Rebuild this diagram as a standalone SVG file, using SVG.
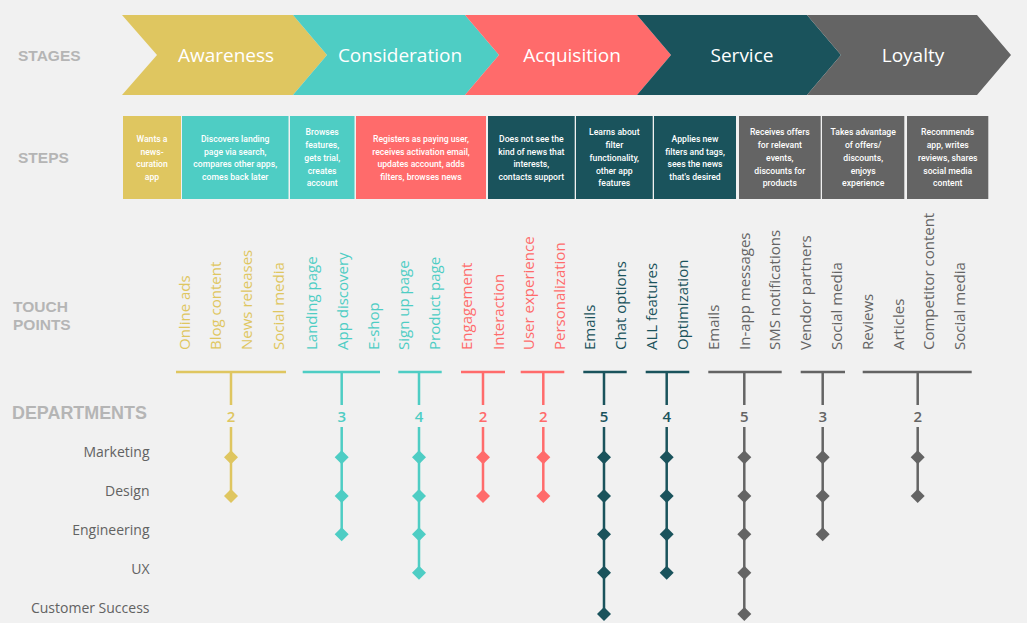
<svg xmlns="http://www.w3.org/2000/svg" width="1027" height="623" viewBox="0 0 1027 623">
<defs>
<style>
.hdr{font-family:"Liberation Sans",Arial,sans-serif;font-weight:bold;fill:#b5b5b5;font-size:15.5px}
.stg{font-family:"Open Sans","Noto Sans",sans-serif;font-size:19px;fill:#ffffff;text-anchor:middle}
.stp{font-family:Roboto,"Liberation Sans",sans-serif;font-weight:500;font-size:9.6px;fill:#ffffff;text-anchor:middle}
.tp{font-family:"Open Sans","Noto Sans",sans-serif;font-size:15px}
.num{font-family:"Open Sans","Noto Sans",sans-serif;font-size:15px;font-weight:600;text-anchor:middle}
.dep{font-family:"Open Sans","Noto Sans",sans-serif;font-size:14px;fill:#626262;text-anchor:end}
.ln{fill:none;stroke-width:2.5}
.y{fill:#dfc660}.t{fill:#4ecdc4}.r{fill:#ff6b6b}.d{fill:#1a535c}.g{fill:#646464}
.sy{stroke:#dfc660}.st{stroke:#4ecdc4}.sr{stroke:#ff6b6b}.sd{stroke:#1a535c}.sg{stroke:#646464}
</style>
<path id="dm" d="M0,-7 L7,0 L0,7 L-7,0Z"/>
</defs>
<rect width="1027" height="623" fill="#f1f1f1"/>

<g id="headers">
<text class="hdr" x="18" y="60.5">STAGES</text>
<text class="hdr" x="18" y="162.5">STEPS</text>
<text class="hdr" x="13" y="311.5">TOUCH</text>
<text class="hdr" x="13" y="329.5">POINTS</text>
<text class="hdr" x="12" y="418.5" style="font-size:17.9px">DEPARTMENTS</text>
</g>

<g id="stages">
<g id="stage-awareness"><polygon class="y" points="122,15 293,15 327,55 293,95 122,95 157,55"/><text class="stg" x="226" y="61.5">Awareness</text></g>
<g id="stage-consideration"><polygon class="t" points="293,15 465,15 499,55 465,95 293,95 327,55"/><text class="stg" x="400" y="61.5">Consideration</text></g>
<g id="stage-acquisition"><polygon class="r" points="465,15 637,15 671,55 637,95 465,95 499,55"/><text class="stg" x="572" y="61.5">Acquisition</text></g>
<g id="stage-service"><polygon class="d" points="637,15 807,15 841,55 807,95 637,95 671,55"/><text class="stg" x="742" y="61.5">Service</text></g>
<g id="stage-loyalty"><polygon class="g" points="807,15 977,15 1011,55 977,95 807,95 841,55"/><text class="stg" x="913" y="61.5">Loyalty</text></g>
</g>

<g id="steps">
<g id="step-1"><rect class="y" x="123" y="116" width="58" height="83"/>
<text class="stp" transform="matrix(0.9 0 0 1 152 0)"><tspan x="0" y="142">Wants a</tspan><tspan x="0" y="154.7">news-</tspan><tspan x="0" y="167.4">curation</tspan><tspan x="0" y="180.1">app</tspan></text></g>
<g id="step-2"><rect class="t" x="182" y="116" width="106.5" height="83"/>
<text class="stp" transform="matrix(0.9 0 0 1 235.2 0)"><tspan x="0" y="142">Discovers landing</tspan><tspan x="0" y="154.7">page via search,</tspan><tspan x="0" y="167.4">compares other apps,</tspan><tspan x="0" y="180.1">comes back later</tspan></text></g>
<g id="step-3"><rect class="t" x="290" y="116" width="64.5" height="83"/>
<text class="stp" transform="matrix(0.9 0 0 1 322.2 0)"><tspan x="0" y="135.5">Browses</tspan><tspan x="0" y="148.2">features,</tspan><tspan x="0" y="160.9">gets trial,</tspan><tspan x="0" y="173.6">creates</tspan><tspan x="0" y="186.3">account</tspan></text></g>
<g id="step-4"><rect class="r" x="356" y="116" width="130" height="83"/>
<text class="stp" transform="matrix(0.9 0 0 1 421 0)"><tspan x="0" y="142">Registers as paying user,</tspan><tspan x="0" y="154.7">receives activation email,</tspan><tspan x="0" y="167.4">updates account, adds</tspan><tspan x="0" y="180.1">filters, browses news</tspan></text></g>
<g id="step-5"><rect class="d" x="488" y="116" width="86.7" height="83"/>
<text class="stp" transform="matrix(0.9 0 0 1 531.3 0)"><tspan x="0" y="142">Does not see the</tspan><tspan x="0" y="154.7">kind of news that</tspan><tspan x="0" y="167.4">interests,</tspan><tspan x="0" y="180.1">contacts support</tspan></text></g>
<g id="step-6"><rect class="d" x="576" y="116" width="76.7" height="83"/>
<text class="stp" transform="matrix(0.9 0 0 1 614.3 0)"><tspan x="0" y="135.5">Learns about</tspan><tspan x="0" y="148.2">filter</tspan><tspan x="0" y="160.9">functionality,</tspan><tspan x="0" y="173.6">other app</tspan><tspan x="0" y="186.3">features</tspan></text></g>
<g id="step-7"><rect class="d" x="654" y="116" width="82" height="83"/>
<text class="stp" transform="matrix(0.9 0 0 1 695 0)"><tspan x="0" y="142">Applies new</tspan><tspan x="0" y="154.7">filters and tags,</tspan><tspan x="0" y="167.4">sees the news</tspan><tspan x="0" y="180.1">that's desired</tspan></text></g>
<g id="step-8"><rect class="g" x="739" y="116" width="81.7" height="83"/>
<text class="stp" transform="matrix(0.9 0 0 1 779.8 0)"><tspan x="0" y="135.5">Receives offers</tspan><tspan x="0" y="148.2">for relevant</tspan><tspan x="0" y="160.9">events,</tspan><tspan x="0" y="173.6">discounts for</tspan><tspan x="0" y="186.3">products</tspan></text></g>
<g id="step-9"><rect class="g" x="822" y="116" width="82.3" height="83"/>
<text class="stp" transform="matrix(0.9 0 0 1 863.2 0)"><tspan x="0" y="135.5">Takes advantage</tspan><tspan x="0" y="148.2">of offers/</tspan><tspan x="0" y="160.9">discounts,</tspan><tspan x="0" y="173.6">enjoys</tspan><tspan x="0" y="186.3">experience</tspan></text></g>
<g id="step-10"><rect class="g" x="907" y="116" width="81.3" height="83"/>
<text class="stp" transform="matrix(0.9 0 0 1 947.7 0)"><tspan x="0" y="135.5">Recommends</tspan><tspan x="0" y="148.2">app, writes</tspan><tspan x="0" y="160.9">reviews, shares</tspan><tspan x="0" y="173.6">social media</tspan><tspan x="0" y="186.3">content</tspan></text></g>
</g>

<g id="touchpoints">
<g id="tp-awareness" class="tp y">
<text transform="translate(190.3,350) rotate(-90)">Online ads</text>
<text transform="translate(221.3,350) rotate(-90)">Blog content</text>
<text transform="translate(252,350) rotate(-90)">News releases</text>
<text transform="translate(283.7,350) rotate(-90)">Social media</text>
</g>
<g id="tp-consideration-1" class="tp t">
<text transform="translate(317,350) rotate(-90)">Landing page</text>
<text transform="translate(348,350) rotate(-90)">App discovery</text>
<text transform="translate(378.7,350) rotate(-90)">E-shop</text>
</g>
<g id="tp-consideration-2" class="tp t">
<text transform="translate(409.3,350) rotate(-90)">Sign up page</text>
<text transform="translate(440.3,350) rotate(-90)">Product page</text>
</g>
<g id="tp-acquisition-1" class="tp r">
<text transform="translate(472,350) rotate(-90)">Engagement</text>
<text transform="translate(503.7,350) rotate(-90)">Interaction</text>
</g>
<g id="tp-acquisition-2" class="tp r">
<text transform="translate(533.7,350) rotate(-90)">User experience</text>
<text transform="translate(564.7,350) rotate(-90)">Personalization</text>
</g>
<g id="tp-service-1" class="tp d">
<text transform="translate(595.3,350) rotate(-90)">Emails</text>
<text transform="translate(626.3,350) rotate(-90)">Chat options</text>
</g>
<g id="tp-service-2" class="tp d">
<text transform="translate(657,350) rotate(-90)">ALL features</text>
<text transform="translate(688,350) rotate(-90)">Optimization</text>
</g>
<g id="tp-loyalty-1" class="tp g">
<text transform="translate(718.7,350) rotate(-90)">Emails</text>
<text transform="translate(749.7,350) rotate(-90)">In-app messages</text>
<text transform="translate(780.3,350) rotate(-90)">SMS notifications</text>
</g>
<g id="tp-loyalty-2" class="tp g">
<text transform="translate(811.3,350) rotate(-90)">Vendor partners</text>
<text transform="translate(842,350) rotate(-90)">Social media</text>
</g>
<g id="tp-loyalty-3" class="tp g">
<text transform="translate(873,350) rotate(-90)">Reviews</text>
<text transform="translate(903.7,350) rotate(-90)">Articles</text>
<text transform="translate(933.7,350) rotate(-90)">Competitor content</text>
<text transform="translate(965,350) rotate(-90)">Social media</text>
</g>
</g>

<g id="departments">
<text class="dep" x="149.5" y="456.5">Marketing</text>
<text class="dep" x="149.5" y="495.5">Design</text>
<text class="dep" x="149.5" y="534.5">Engineering</text>
<text class="dep" x="149.5" y="573.5">UX</text>
<text class="dep" x="149.5" y="612.5">Customer Success</text>
</g>

<g id="connectors" class="ln">
<path class="sy" d="M176,372H286M231,372V405M231,427V496"/>
<path class="st" d="M302.7,372H380M341.7,372V405M341.7,427V534.3"/>
<path class="st" d="M398.3,372H441.7M419,372V405M419,427V572.8"/>
<path class="sr" d="M461,372H505M483,372V405M483,427V496"/>
<path class="sr" d="M520.7,372H564.3M543.3,372V405M543.3,427V496"/>
<path class="sd" d="M583.3,372H626.7M604,372V405M604,427V614"/>
<path class="sd" d="M645.7,372H689.3M666.7,372V405M666.7,427V572.8"/>
<path class="sg" d="M708.3,372H781.7M744.3,372V405M744.3,427V614"/>
<path class="sg" d="M800.7,372H845M822.7,372V405M822.7,427V534.3"/>
<path class="sg" d="M862.7,372H971.7M917.7,372V405M917.7,427V496"/>
</g>

<g id="counts" class="num">
<text class="y" x="231" y="422">2</text>
<text class="t" x="341.7" y="422">3</text>
<text class="t" x="419" y="422">4</text>
<text class="r" x="483" y="422">2</text>
<text class="r" x="543.3" y="422">2</text>
<text class="d" x="604" y="422">5</text>
<text class="d" x="666.7" y="422">4</text>
<text class="g" x="744.3" y="422">5</text>
<text class="g" x="822.7" y="422">3</text>
<text class="g" x="917.7" y="422">2</text>
</g>

<g id="markers">
<g id="mk-awareness" class="y"><use href="#dm" x="231" y="457.3"/><use href="#dm" x="231" y="496"/></g>
<g id="mk-consideration-1" class="t"><use href="#dm" x="341.7" y="457.3"/><use href="#dm" x="341.7" y="496"/><use href="#dm" x="341.7" y="534.3"/></g>
<g id="mk-consideration-2" class="t"><use href="#dm" x="419" y="457.3"/><use href="#dm" x="419" y="496"/><use href="#dm" x="419" y="534.3"/><use href="#dm" x="419" y="572.8"/></g>
<g id="mk-acquisition-1" class="r"><use href="#dm" x="483" y="457.3"/><use href="#dm" x="483" y="496"/></g>
<g id="mk-acquisition-2" class="r"><use href="#dm" x="543.3" y="457.3"/><use href="#dm" x="543.3" y="496"/></g>
<g id="mk-service-1" class="d"><use href="#dm" x="604" y="457.3"/><use href="#dm" x="604" y="496"/><use href="#dm" x="604" y="534.3"/><use href="#dm" x="604" y="572.8"/><use href="#dm" x="604" y="614"/></g>
<g id="mk-service-2" class="d"><use href="#dm" x="666.7" y="457.3"/><use href="#dm" x="666.7" y="496"/><use href="#dm" x="666.7" y="534.3"/><use href="#dm" x="666.7" y="572.8"/></g>
<g id="mk-loyalty-1" class="g"><use href="#dm" x="744.3" y="457.3"/><use href="#dm" x="744.3" y="496"/><use href="#dm" x="744.3" y="534.3"/><use href="#dm" x="744.3" y="572.8"/><use href="#dm" x="744.3" y="614"/></g>
<g id="mk-loyalty-2" class="g"><use href="#dm" x="822.7" y="457.3"/><use href="#dm" x="822.7" y="496"/><use href="#dm" x="822.7" y="534.3"/></g>
<g id="mk-loyalty-3" class="g"><use href="#dm" x="917.7" y="457.3"/><use href="#dm" x="917.7" y="496"/></g>
</g>
</svg>
